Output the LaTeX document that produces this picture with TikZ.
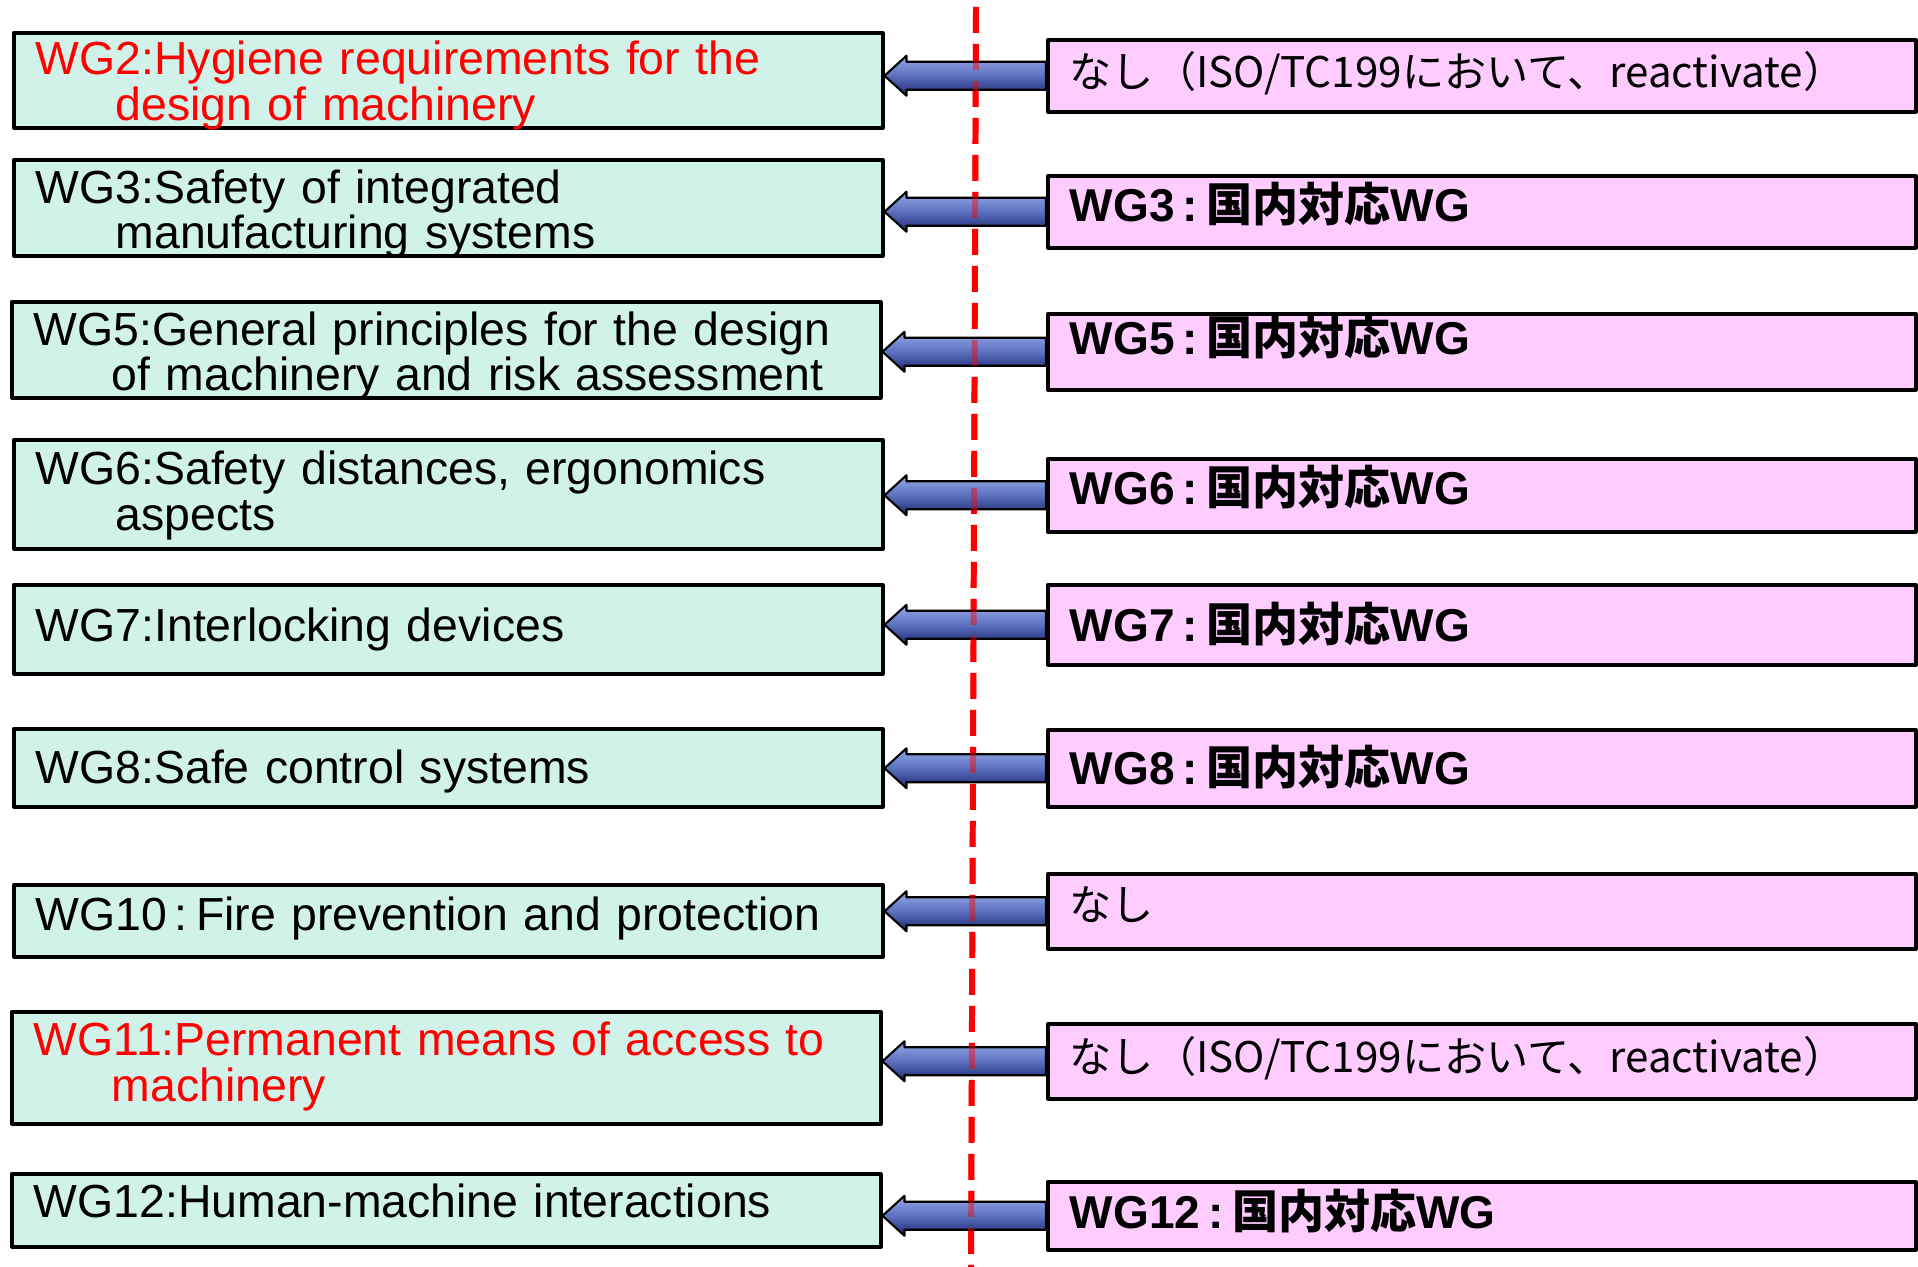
\documentclass[tikz,border=0pt]{standalone}
\usepackage{fontspec}
\setmainfont{Liberation Sans}
\newfontfamily\cjk{Noto Sans CJK JP}
\usetikzlibrary{calc}
\definecolor{mint}{RGB}{208,242,232}
\definecolor{pinkbg}{RGB}{255,204,255}
\definecolor{arrtop}{RGB}{150,170,232}
\definecolor{arrmid}{RGB}{92,112,192}
\definecolor{arrbot}{RGB}{28,40,112}
\begin{document}
\begin{tikzpicture}[x=0.1mm, y=-0.1mm, line join=round, font=\fontsize{13.2}{12.9}\selectfont,
	lbox/.style={draw=black, line width=1pt, fill=mint, anchor=north west, minimum width=86.9mm, text width=82.5mm, inner xsep=2.2mm, inner ysep=0pt, align=left},
	rbox/.style={draw=black, line width=1pt, fill=pinkbg, anchor=north west, minimum width=86.8mm, text width=82.4mm, inner xsep=2.2mm, inner ysep=0pt, align=left, font=\cjk\fontsize{12}{14}\selectfont},
	jwg/.style={rbox, font=\bfseries\fontsize{13.1}{14}\selectfont},
	wgarrow/.style={draw=black, line width=0.6pt, top color=arrtop, bottom color=arrbot, middle color=arrmid},
	divider/.style={red, line width=1.7pt, dash pattern=on 2.6mm off 1.1mm}]
\useasboundingbox (0,0) rectangle (1918,1267);
\path (976,7)coordinate(T) (971,1267)coordinate(B);

\node[lbox, text height=4.22mm, text depth=5.28mm, text=red] (L2) at (12,31) {WG2:Hygiene requirements for the\\\hspace*{8mm}design of machinery};
\node[lbox, text height=4.37mm, text depth=5.23mm] (L3) at (12,158) {WG3:Safety of integrated\\\hspace*{8mm}manufacturing systems};
\node[lbox, text height=4.35mm, text depth=5.25mm] (L5) at (10,300) {WG5:General principles for the design\\\hspace*{7.8mm}of machinery and risk assessment};
\node[lbox, text height=4.5mm, text depth=6.4mm] (L6) at (12,438) {WG6:Safety distances, ergonomics\\\hspace*{8mm}aspects};
\node[lbox, minimum height=8.9mm] (L7) at (12,583) {WG7:Interlocking devices};
\node[lbox, minimum height=7.8mm, text height=11.7pt] (L8) at (12,727) {WG8:Safe control systems};
\node[lbox, minimum height=7.2mm, text depth=4.2pt] (L10) at (12,883) {WG10\hspace{0.15em}:\hspace{0.2em}Fire prevention and protection};
\node[lbox, text height=4.42mm, text depth=6.78mm, text=red] (L11) at (10,1010) {WG11:Permanent means of access to\\\hspace*{7.8mm}machinery};
\node[lbox, minimum height=7.3mm, text depth=5.6pt] (L12) at (10,1172) {WG12:Human-machine interactions};

\node[rbox, text height=4.79mm, text depth=2.41mm] (R2) at (1046,38) {なし（ISO/TC199において、reactivate）};
\node[jwg, text height=4.53mm, text depth=2.67mm] (R3) at (1046,174) {WG3\hspace{0.18em}:\hspace{0.18em}{\cjk 国内対応}WG};
\node[jwg, text height=4.06mm, text depth=3.54mm] (R5) at (1046,312) {WG5\hspace{0.18em}:\hspace{0.18em}{\cjk 国内対応}WG};
\node[jwg, text height=4.6mm, text depth=2.7mm] (R6) at (1046,457) {WG6\hspace{0.18em}:\hspace{0.18em}{\cjk 国内対応}WG};
\node[jwg, text height=5.7mm, text depth=2.3mm] (R7) at (1046,583) {WG7\hspace{0.18em}:\hspace{0.18em}{\cjk 国内対応}WG};
\node[jwg, text height=5.52mm, text depth=2.18mm] (R8) at (1046,728) {WG8\hspace{0.18em}:\hspace{0.18em}{\cjk 国内対応}WG};
\node[rbox, text height=4.69mm, text depth=2.81mm] (R10) at (1046,872) {なし};
\node[rbox, text height=4.86mm, text depth=2.64mm] (R11) at (1046,1022) {なし（ISO/TC199において、reactivate）};
\node[jwg, text height=4.72mm, text depth=2.08mm] (R12) at (1046,1180) {WG12\hspace{0.18em}:\hspace{0.18em}{\cjk 国内対応}WG};

\draw[divider] (T)--(B);
\foreach \r/\l in {R2/L2,R3/L3,R5/L5,R6/L6,R7/L7,R8/L8,R10/L10,R11/L11,R12/L12}
	\draw[wgarrow] let \p1=(\r.west), \p2=(\l.east) in
		(\x1,\y1+1.4mm)--(\x2+2.2mm,\y1+1.4mm)--(\x2+2.2mm,\y1+2mm)--(\x2,\y1)
		--(\x2+2.2mm,\y1-2mm)--(\x2+2.2mm,\y1-1.4mm)--(\x1,\y1-1.4mm)--cycle;
\draw[divider, draw opacity=0.45] (T)--(B);
\end{tikzpicture}
\end{document}
